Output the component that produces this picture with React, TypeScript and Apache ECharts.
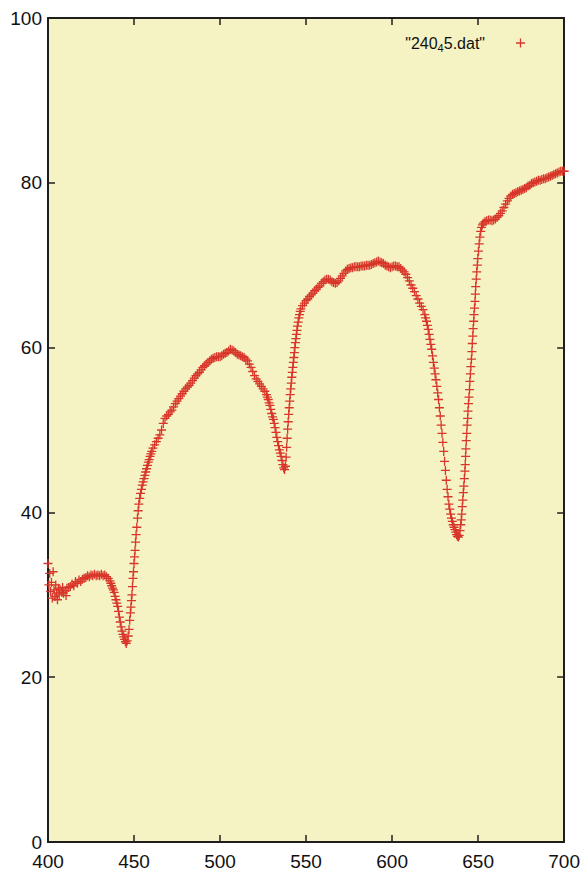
import React, { useEffect, useRef } from "react";
import * as echarts from "echarts";

// Transmission spectrum: [wavelength, value]
const bandBlue: number[][] = [
  [400, 33.8], [400.5, 31.2], [401, 32.6], [401.5, 30.4], [402, 31.5], [402.5, 29.6], [403, 32.8], [403.5, 30.6],
  [404, 29.8], [404.5, 31.2], [405, 30.2], [405.5, 29.4], [406, 30.8], [406.5, 30.0], [407, 30.6], [408, 30.3],
  [408.5, 30.9], [409, 30.2], [410, 30.5], [410.5, 29.9], [411, 30.8], [412, 30.9], [413, 31.0], [414, 31.3],
  [415, 31.1], [416, 31.6], [417, 31.4], [418, 31.8], [419, 31.6], [420, 31.9], [421, 32.0], [422, 32.1],
  [423, 32.3], [424, 32.2], [425, 32.4], [426, 32.3], [427, 32.5], [428, 32.3], [429, 32.4], [430, 32.3],
  [431, 32.5], [432, 32.3], [433, 32.4], [434, 32.2], [435, 32.0], [436, 31.7], [436.5, 31.4], [437, 31.1],
  [437.5, 30.8], [438, 30.6], [438.5, 30.3], [439, 29.8], [439.5, 29.4], [440, 29.0], [440.5, 28.6], [441, 28.0],
  [441.5, 27.3], [442, 26.7], [442.5, 26.1], [443, 25.6], [443.5, 25.2], [444, 24.9], [444.5, 24.6], [445, 24.3],
  [445.5, 24.1], [446, 24.4],
];

const bandGreen: number[][] = [
  [446.6, 25.0], [447.1, 25.8], [447.5, 26.9], [447.9, 27.8], [448.2, 28.5], [448.5, 29.3], [448.8, 30.0],
  [449.1, 31.0], [449.4, 32.0], [449.7, 32.8], [450.0, 33.8], [450.3, 34.6], [450.6, 35.4], [450.9, 36.4],
  [451.2, 37.3], [451.6, 38.2], [452.0, 39.3], [452.4, 40.2], [452.8, 41.0], [453.3, 41.7], [453.8, 42.3],
  [454.3, 42.8], [454.8, 43.3], [455.3, 43.7], [455.8, 44.1], [456.3, 44.5], [456.8, 44.9], [457.3, 45.3],
  [457.8, 45.7], [458.3, 46.1], [458.8, 46.4], [459.3, 46.8], [459.8, 47.1], [460.3, 47.4], [461, 47.8],
  [462, 48.2], [463, 48.6], [464, 49.0], [465, 49.4], [466, 50.0], [467, 50.8], [468, 51.4], [469, 51.7],
  [470, 51.9], [471, 52.2], [472, 52.4], [473, 52.8], [474, 53.2], [475, 53.5], [476, 53.8], [477, 54.1],
  [478, 54.4], [479, 54.7], [480, 55.0], [481, 55.2], [482, 55.4], [483, 55.7], [484, 56.0], [485, 56.3],
  [486, 56.6], [487, 56.8], [488, 57.0], [489, 57.3], [490, 57.6], [491, 57.8], [492, 58.0], [493, 58.2],
  [494, 58.4], [495, 58.6], [496, 58.7], [497, 58.8], [498, 58.9], [499, 58.9], [500, 58.9], [501, 59.0],
  [502, 59.2], [503, 59.3], [504, 59.4], [505, 59.6], [506, 59.8], [507, 59.7], [508, 59.6], [509, 59.4],
  [510, 59.2], [511, 59.1], [512, 59.0], [513, 58.9], [514, 58.8], [515, 58.6], [516, 58.4], [517, 58.0],
  [518, 57.6], [519, 57.1], [520, 56.6], [521, 56.2], [522, 55.9], [523, 55.6], [524, 55.3], [525, 55.0],
  [526, 54.7], [527, 54.3], [527.5, 54.0], [528, 53.7], [528.5, 53.3], [529, 53.0], [529.5, 52.5], [530, 52.0],
  [530.5, 51.6], [531, 51.3], [531.5, 50.8], [532, 50.3], [532.5, 49.7], [533, 49.1], [533.5, 48.6], [534, 48.1],
  [534.5, 47.6], [535, 47.2], [535.5, 46.8], [536, 46.3], [536.5, 45.8], [537, 45.4], [537.5, 45.2], [538, 45.6],
];

const bandYellow: number[][] = [
  [538.4, 46.7], [538.7, 47.9], [539.0, 49.0], [539.3, 50.1], [539.6, 51.0], [539.9, 51.9], [540.2, 52.7],
  [540.5, 53.5], [540.8, 54.3], [541.1, 55.0], [541.4, 55.7], [541.7, 56.4], [542.0, 57.0], [542.3, 57.6],
  [542.6, 58.2], [542.9, 58.8], [543.2, 59.4], [543.5, 60.0], [543.8, 60.6], [544.1, 61.1], [544.4, 61.6],
  [544.7, 62.1], [545.0, 62.6], [545.4, 63.1], [545.8, 63.6], [546.2, 64.0], [546.6, 64.4], [547, 64.7],
  [548, 65.1], [549, 65.4], [550, 65.7], [551, 65.9], [552, 66.2], [553, 66.4], [554, 66.6], [555, 66.9],
  [556, 67.1], [557, 67.3], [558, 67.5], [559, 67.8], [560, 68.0], [561, 68.2], [562, 68.3], [563, 68.3],
  [564, 68.2], [565, 68.0], [566, 67.9], [567, 67.8], [568, 67.9], [569, 68.1], [570, 68.4], [571, 68.7],
  [572, 69.0], [573, 69.3], [574, 69.5], [575, 69.6], [576, 69.7], [577, 69.7], [578, 69.8], [579, 69.8],
  [580, 69.8], [581, 69.8], [582, 69.9], [583, 69.9], [584, 69.9], [585, 70.0], [586, 70.0], [587, 70.0],
  [588, 70.1], [589, 70.2], [590, 70.3], [591, 70.4], [592, 70.5], [593, 70.4], [594, 70.3], [595, 70.2],
  [596, 70.0], [597, 69.9], [598, 69.8], [599, 69.7], [600, 69.8], [601, 69.9], [602, 69.9], [603, 69.8],
  [604, 69.8], [605, 69.6], [606, 69.4], [607, 69.2], [608, 68.9], [609, 68.5], [610, 68.1], [611, 67.6],
  [612, 67.2], [613, 66.8], [614, 66.3], [615, 65.9], [616, 65.4], [617, 65.0], [618, 64.6], [619, 64.0],
  [619.5, 63.6], [620, 63.2], [620.5, 62.7], [621, 62.2], [621.5, 61.6], [622, 61.0], [622.5, 60.4], [623, 59.8],
  [623.5, 59.0], [624, 58.2], [624.5, 57.5], [625, 56.8], [625.5, 56.1], [626, 55.3], [626.5, 54.5], [627, 53.7],
  [627.5, 52.7], [628, 51.7], [628.5, 50.6], [629, 49.6], [629.5, 48.5], [630, 47.4], [630.5, 46.2], [631, 45.1],
  [631.5, 43.9], [632, 42.8], [632.5, 41.9], [633, 41.0], [633.5, 40.4], [634, 39.8], [634.5, 39.3], [635, 38.9],
  [635.5, 38.5], [636, 38.2], [636.5, 37.9], [637, 37.6], [637.5, 37.3], [638, 37.1], [638.5, 37.0], [639, 37.2],
  [639.5, 37.8],
];

const bandRed: number[][] = [
  [639.9, 38.5], [640.2, 39.1], [640.5, 39.8], [640.8, 40.7], [641.1, 41.5], [641.4, 42.4], [641.7, 43.2],
  [642.0, 44.1], [642.3, 45.0], [642.5, 45.8], [642.7, 46.8], [642.9, 47.7], [643.1, 48.7], [643.4, 49.6],
  [643.6, 50.6], [643.9, 51.4], [644.1, 52.3], [644.4, 53.2], [644.7, 54.0], [645.0, 54.9], [645.2, 55.9],
  [645.5, 56.8], [645.8, 57.7], [646.1, 58.6], [646.4, 59.5], [646.6, 60.5], [646.9, 61.4], [647.1, 62.3],
  [647.4, 63.2], [647.6, 64.0], [647.9, 64.8], [648.2, 65.6], [648.4, 66.5], [648.6, 67.4], [648.9, 68.3],
  [649.2, 69.2], [649.5, 70.0], [649.8, 70.8], [650.2, 71.7], [650.6, 72.6], [651.0, 73.4], [651.5, 74.1],
  [652, 74.6], [652.5, 74.9], [653, 75.1], [654, 75.3], [655, 75.4], [656, 75.5], [657, 75.5], [658, 75.4],
  [659, 75.5], [660, 75.6], [661, 75.8], [662, 76.0], [663, 76.3], [664, 76.6], [665, 77.0], [666, 77.4],
  [667, 77.8], [668, 78.1], [669, 78.4], [670, 78.6], [671, 78.7], [672, 78.8], [673, 78.9], [674, 79.0],
  [675, 79.1], [676, 79.2], [677, 79.3], [678, 79.4], [679, 79.6], [680, 79.7], [681, 79.9], [682, 80.0],
  [683, 80.1], [684, 80.2], [685, 80.3], [686, 80.3], [687, 80.4], [688, 80.5], [689, 80.5], [690, 80.6],
  [691, 80.7], [692, 80.8], [693, 80.9], [694, 81.0], [695, 81.1], [696, 81.2], [697, 81.3], [698, 81.4],
  [699, 81.4], [700, 81.4],
];

const xTicks = { min: 400, max: 700, interval: 50 };
const yTicks = { min: 0, max: 100, interval: 20 };
const seriesName = "240_45.dat";

const PLUS = "path://M3.85,0H5.15V3.85H9V5.15H5.15V9H3.85V5.15H0V3.85H3.85Z";
const RED = "#d8362a";
const INK = "#1e1e1e";
const FONT = "Liberation Sans";

export default function App() {
  const ref = useRef<HTMLDivElement>(null);
  useEffect(() => {
    if (!ref.current) return;
    const chart = echarts.init(ref.current, undefined, { renderer: "svg" });
    const data = [...bandBlue, ...bandGreen, ...bandYellow, ...bandRed];
    const tick = { show: true, inside: true, length: 7, lineStyle: { color: INK, width: 1.5 } };
    const line = { show: true, onZero: false, lineStyle: { color: INK, width: 2 } };
    const label = { fontSize: 19, lineHeight: 19, color: "#111", fontFamily: FONT };
    chart.setOption({
      animation: false,
      backgroundColor: "#ffffff",
      grid: {
        left: 48, right: 17, top: 18, bottom: 28,
        show: true, backgroundColor: "#f5f2c3", borderWidth: 0,
      },
      legend: {
        show: true,
        right: 58,
        top: 35,
        padding: 0,
        align: "right",
        itemWidth: 9,
        itemHeight: 9,
        data: [{ name: seriesName, icon: PLUS }],
        formatter: () => '"240{sub|4}5.dat"',
        textStyle: {
          fontSize: 16, color: "#111", fontFamily: FONT, padding: [0, 26, 0, 0],
          rich: {
            sub: { fontSize: 11, fontFamily: FONT, color: "#111", padding: [9, 0, 0, 0], verticalAlign: "bottom" },
          },
        },
      },
      xAxis: [
        {
          type: "value", position: "bottom", ...xTicks,
          axisLine: line, axisTick: tick, splitLine: { show: false },
          axisLabel: { ...label, margin: 10 },
        },
        {
          type: "value", position: "top", ...xTicks,
          axisLine: line, axisTick: tick, splitLine: { show: false },
          axisLabel: { show: false },
        },
      ],
      yAxis: [
        {
          type: "value", position: "left", ...yTicks,
          axisLine: line, axisTick: tick, splitLine: { show: false },
          axisLabel: { ...label, margin: 6 },
        },
        {
          type: "value", position: "right", ...yTicks,
          axisLine: line, axisTick: tick, splitLine: { show: false },
          axisLabel: { show: false },
        },
      ],
      series: [
        {
          name: seriesName,
          type: "scatter",
          xAxisIndex: 0,
          yAxisIndex: 0,
          symbol: PLUS,
          symbolSize: 9,
          itemStyle: { color: RED, opacity: 1 },
          data,
        },
      ],
    });
    return () => chart.dispose();
  }, []);
  return (
    <div
      ref={ref}
      style={{ position: "fixed", left: 0, top: 0, width: 583, height: 871 }}
    />
  );
}
